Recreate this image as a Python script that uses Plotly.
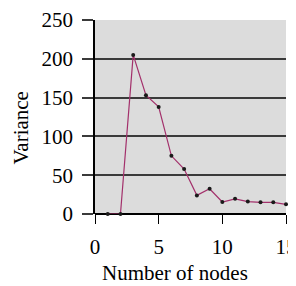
import plotly.graph_objects as go

nodes = [1, 2, 3, 4, 5, 6, 7, 8, 9, 10, 11, 12, 13, 14, 15]
variance = [0, 0, 205, 153, 138, 75, 58, 24, 32.5, 15.5, 19.5, 16, 15, 15, 12.5]

fig = go.Figure()
fig.add_trace(go.Scatter(
    x=nodes, y=variance, mode="lines+markers",
    line=dict(color="#a3306b", width=1.2),
    marker=dict(color="#1a1a1a", size=4),
    cliponaxis=False,
))

font = dict(family="Liberation Serif, Times New Roman, serif", size=21, color="black")
# page body has an 8px default margin, so the figure is 8px smaller and shifted
fig.update_layout(
    width=288, height=278,
    margin=dict(l=87, r=10, t=12, b=72),
    paper_bgcolor="white", plot_bgcolor="#dcdcdc",
    showlegend=False, font=font,
    annotations=[
        dict(text="Number of nodes", xref="paper", yref="paper", x=0.42, y=-0.305,
             xanchor="center", yanchor="middle", showarrow=False, font=font),
        dict(text="Variance", xref="paper", yref="paper", x=-0.385, y=0.443,
             xanchor="center", yanchor="middle", showarrow=False, textangle=-90, font=font),
    ],
)
fig.update_xaxes(
    range=[0, 15], tickvals=[0, 5, 10, 15], showgrid=False, zeroline=False,
    ticks="outside", ticklen=9, tickcolor="black", tickwidth=1,
    showline=False, automargin=False, ticklabeloverflow="allow", ticklabelstandoff=5,
)
fig.update_yaxes(
    range=[0, 250], tickvals=[0, 50, 100, 150, 200, 250], showgrid=True,
    gridcolor="#3a3a3a", gridwidth=1.5, zeroline=True, zerolinecolor="black", zerolinewidth=1.5,
    ticks="outside", ticklen=11, tickcolor="#3a3a3a", tickwidth=1.5,
    showline=True, linecolor="black", linewidth=1.5, automargin=False, ticklabelstandoff=5,
)
fig.write_html("out.html")
